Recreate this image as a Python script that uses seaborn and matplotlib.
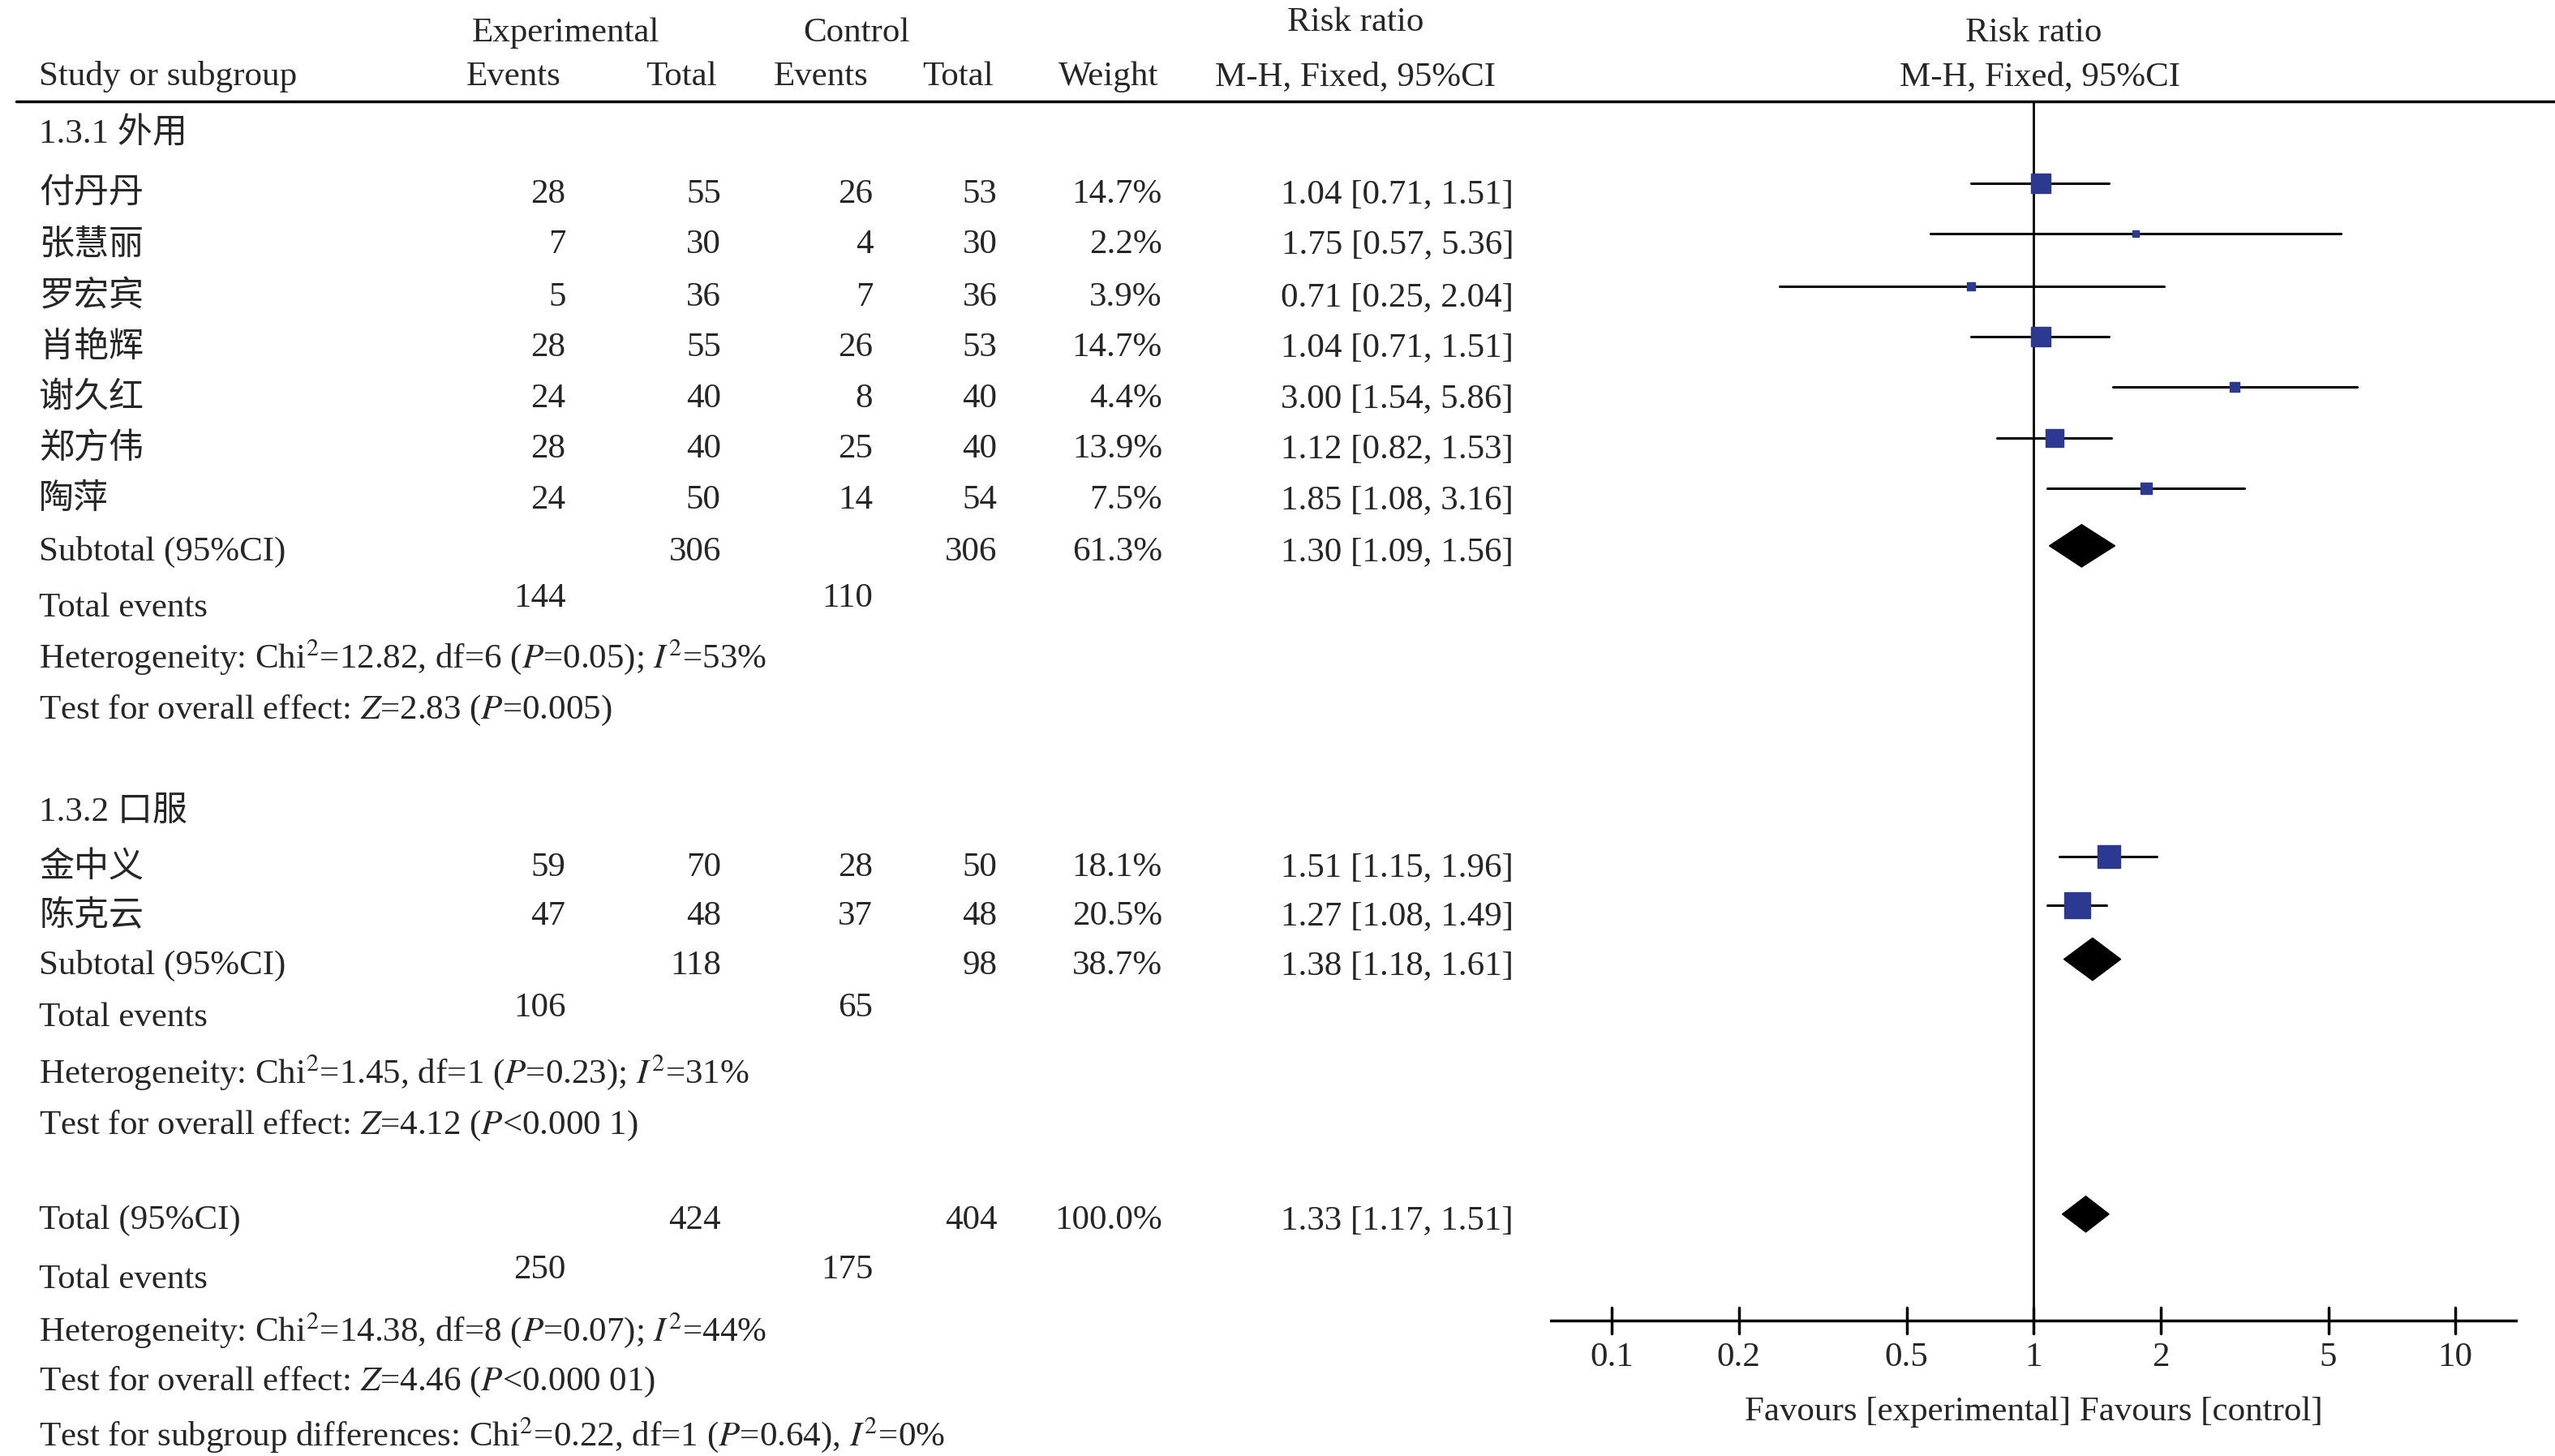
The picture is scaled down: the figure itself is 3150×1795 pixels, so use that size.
import matplotlib
matplotlib.use("Agg")
import matplotlib.pyplot as plt
import numpy as np
import seaborn as sns

sns.set_style("white")
plt.rcParams["font.family"] = ["Liberation Serif", "Noto Sans CJK SC"]
plt.rcParams["mathtext.fontset"] = "stix"

# ---- data ----
studies = ["付丹丹", "张慧丽", "罗宏宾", "肖艳辉", "谢久红", "郑方伟", "陶萍", "金中义", "陈克云"]
exp_events = [28, 7, 5, 28, 24, 28, 24, 59, 47]
exp_total = [55, 30, 36, 55, 40, 40, 50, 70, 48]
ctl_events = [26, 4, 7, 26, 8, 25, 14, 28, 37]
ctl_total = [53, 30, 36, 53, 40, 40, 54, 50, 48]
weights = [14.7, 2.2, 3.9, 14.7, 4.4, 13.9, 7.5, 18.1, 20.5]
rr = [1.04, 1.75, 0.71, 1.04, 3.00, 1.12, 1.85, 1.51, 1.27]
lo = [0.71, 0.57, 0.25, 0.71, 1.54, 0.82, 1.08, 1.15, 1.08]
hi = [1.51, 5.36, 2.04, 1.51, 5.86, 1.53, 3.16, 1.96, 1.49]
study_y = [119, 150, 182, 213, 244, 275, 306, 531, 561]

sub_labels = ["Subtotal (95%CI)", "Subtotal (95%CI)", "Total (95%CI)"]
sub_y = [338, 591, 747]
sub_exp_total = [306, 118, 424]
sub_ctl_total = [306, 98, 404]
sub_weight = ["61.3%", "38.7%", "100.0%"]
sub_rr = [1.30, 1.38, 1.33]
sub_lo = [1.09, 1.18, 1.17]
sub_hi = [1.56, 1.61, 1.51]
sub_dh = [13, 13, 11]

tot_events_y = [372, 623, 783]
tot_exp_events = [144, 106, 250]
tot_ctl_events = [110, 65, 175]

notes = [
    (402, r"Heterogeneity: Chi$^2$=12.82, df=6 ($\mathit{P}$=0.05); $\mathit{I}^2$=53%"),
    (435, r"Test for overall effect: $\mathit{Z}$=2.83 ($\mathit{P}$=0.005)"),
    (656, r"Heterogeneity: Chi$^2$=1.45, df=1 ($\mathit{P}$=0.23); $\mathit{I}^2$=31%"),
    (689, r"Test for overall effect: $\mathit{Z}$=4.12 ($\mathit{P}$<0.000 1)"),
    (814, r"Heterogeneity: Chi$^2$=14.38, df=8 ($\mathit{P}$=0.07); $\mathit{I}^2$=44%"),
    (846, r"Test for overall effect: $\mathit{Z}$=4.46 ($\mathit{P}$<0.000 01)"),
    (878, r"Test for subgroup differences: Chi$^2$=0.22, df=1 ($\mathit{P}$=0.64), $\mathit{I}^2$=0%"),
]
groups = [(82, "1.3.1 外用"), (497, "1.3.2 口服")]
ticks = [0.1, 0.2, 0.5, 1, 2, 5, 10]
tick_labels = ["0.1", "0.2", "0.5", "1", "2", "5", "10"]

W, H = 1563, 891
FS = 31
fig = plt.figure(figsize=(31.5, 17.95), dpi=100)
ax = fig.add_axes([0, 0, 1, 1])
ax.set_xlim(0, W)
ax.set_ylim(H, 0)
ax.axis("off")

def t(x, y, s, ha="left", **kw):
    ax.text(x, y, s, ha=ha, va="center", fontsize=FS, **kw)

# header
t(346, 20, "Experimental", "center")
t(524, 20, "Control", "center")
t(829, 14, "Risk ratio", "center")
t(24, 47, "Study or subgroup")
t(314, 47, "Events", "center")
t(417, 47, "Total", "center")
t(502, 47, "Events", "center")
t(586, 47, "Total", "center")
t(678, 47, "Weight", "center")
t(829, 47, "M-H, Fixed, 95%CI", "center")
t(1244, 20, "Risk ratio", "center")
t(1248, 47, "M-H, Fixed, 95%CI", "center")
ax.plot([10, W], [62, 62], color="black", lw=2.5)

for y, s in groups:
    t(24, y, s)
for i, name in enumerate(studies):
    y = study_y[i]
    t(24, y, name)
    t(346, y, str(exp_events[i]), "right")
    t(441, y, str(exp_total[i]), "right")
    t(534, y, str(ctl_events[i]), "right")
    t(610, y, str(ctl_total[i]), "right")
    t(711, y, f"{weights[i]:.1f}%", "right")
    t(926, y, f"{rr[i]:.2f} [{lo[i]:.2f}, {hi[i]:.2f}]", "right")
for i, lab in enumerate(sub_labels):
    y = sub_y[i]
    t(24, y, lab)
    t(441, y, str(sub_exp_total[i]), "right")
    t(610, y, str(sub_ctl_total[i]), "right")
    t(711, y, sub_weight[i], "right")
    t(926, y, f"{sub_rr[i]:.2f} [{sub_lo[i]:.2f}, {sub_hi[i]:.2f}]", "right")
for i, y in enumerate(tot_events_y):
    t(24, y, "Total events")
    t(346, y - 6, str(tot_exp_events[i]), "right")
    t(534, y - 6, str(tot_ctl_events[i]), "right")
for y, s in notes:
    t(24, y, s)

# forest panel
L, R = 948, 1540
fx = fig.add_axes([L / W, 0, (R - L) / W, 1])
fx.set_xscale("log")
lmin = 10 ** (-1 - 38 / 258)
lmax = 10 ** (1 + 38 / 258)
fx.set_xlim(lmin, lmax)
fx.set_ylim(H, 0)
fx.axis("off")
fx.plot([1, 1], [62, 808], color="black", lw=2)
fx.plot([lmin, lmax], [808, 808], color="black", lw=2.5)
for tk, tl in zip(ticks, tick_labels):
    fx.plot([tk, tk], [800, 816], color="black", lw=2.5)
    fx.text(tk, 831, tl, ha="center", va="center", fontsize=FS)
fx.text(1, 864, "Favours [experimental] Favours [control]", ha="center",
        va="center", fontsize=FS)

navy = "#2b3990"
for i in range(len(studies)):
    y = study_y[i] - 7
    fx.plot([lo[i], hi[i]], [y, y], color="black", lw=2.2)
    side = 4 + weights[i] * 0.9
    fx.plot(rr[i], y, marker="s", color=navy, markersize=side, lw=0)
for i in range(len(sub_labels)):
    y = sub_y[i] - 4
    h = sub_dh[i]
    fx.fill([sub_lo[i], sub_rr[i], sub_hi[i], sub_rr[i]],
            [y, y - h, y, y + h], color="black")

fig.savefig("out.png", dpi=100)
